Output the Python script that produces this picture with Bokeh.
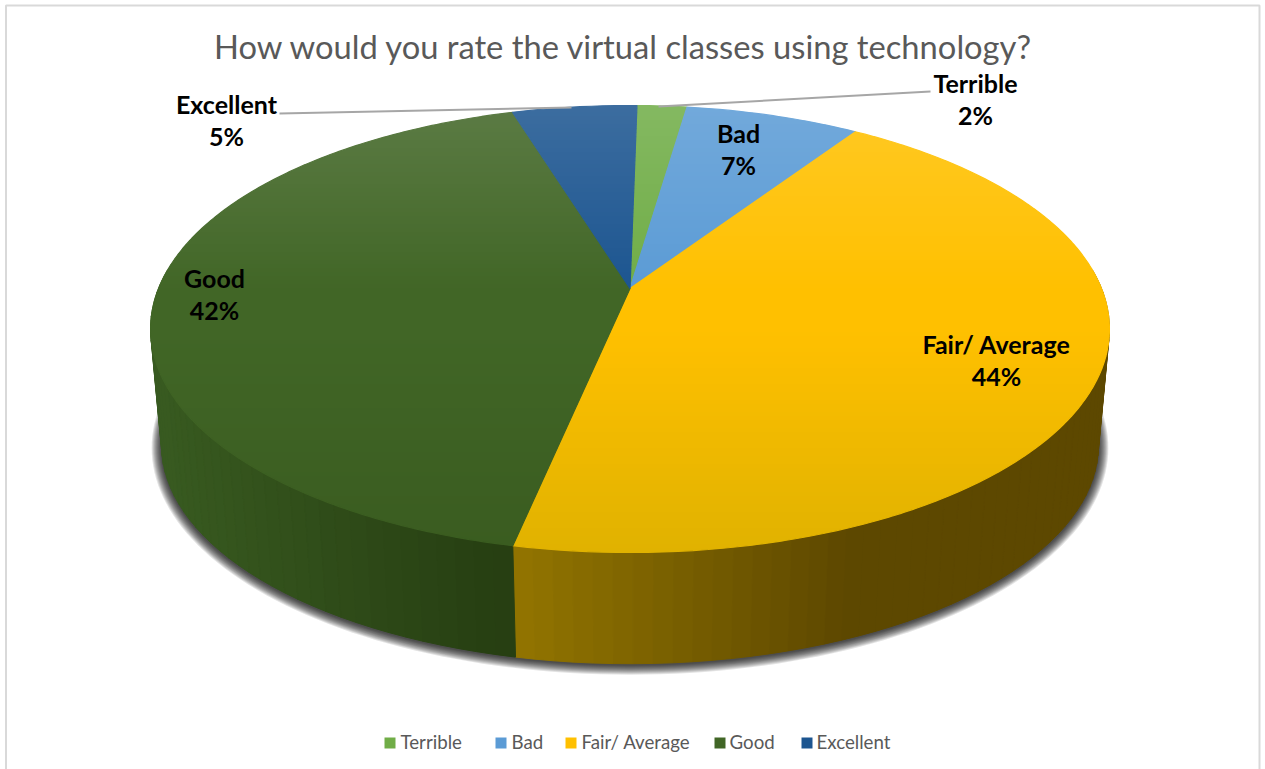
import math

from bokeh.core.properties import value
from bokeh.embed import file_html
from bokeh.models import ColumnDataSource, Range1d
from bokeh.plotting import figure
from bokeh.resources import INLINE

# Survey results
categories = ["Terrible", "Bad", "Fair/ Average", "Good", "Excellent"]
shares = [2, 7, 44, 42, 5]
title_text = "How would you rate the virtual classes using technology?"

# Slice colours at mid depth and at the front edge of the disc
top_colors = ["#70AD47", "#5B9BD5", "#FFC000", "#416626", "#1C5590"]
front_colors = ["#64993f", "#5189bd", "#E0B200", "#3A5C20", "#194c80"]

WIDTH, HEIGHT = 1265, 769

# Perspective disc: screen position of a rim point depends on the angle
CX, APEX_Y = 629.5, 288.0
PERSP = 0.1812
RX = 471.5
RY = 163.97
START_DEG = 1.0
WALL_SCALE = 0.977
WALL_Y = 405.3


def rim(theta):
    u, v = math.sin(theta), math.cos(theta)
    d = 1 + PERSP * v
    return CX + RX * u / d, (APEX_Y - RY * v) / d


def base(theta):
    x, y = rim(theta)
    return CX + WALL_SCALE * (x - CX), WALL_Y + WALL_SCALE * (y - APEX_Y)


def mix(color, other, t):
    t = max(0.0, min(1.0, t))
    a = [int(color[i:i + 2], 16) for i in (1, 3, 5)]
    b = [int(other[i:i + 2], 16) for i in (1, 3, 5)]
    return "#%02x%02x%02x" % tuple(round(p + (q - p) * t) for p, q in zip(a, b))


def clip_band(poly, y0, y1):
    """Keep the part of a polygon lying between two horizontal lines."""
    def clip(points, limit, keep_below):
        out = []
        for i, (x1, y1_) in enumerate(points):
            x0, y0_ = points[i - 1]
            in0 = (y0_ >= limit) if keep_below else (y0_ <= limit)
            in1 = (y1_ >= limit) if keep_below else (y1_ <= limit)
            if in0 != in1:
                t = (limit - y0_) / (y1_ - y0_)
                out.append((x0 + (x1 - x0) * t, limit))
            if in1:
                out.append((x1, y1_))
        return out
    part = clip(poly, y0, True)
    return clip(part, y1, False) if part else []


def surface_shade(idx, y):
    """Lighter towards the back of the disc, darker towards the front."""
    if y < 290:
        return mix(top_colors[idx], "#ffffff", 0.14 * (290 - y) / 185)
    return mix(top_colors[idx], front_colors[idx], (y - 330) / 222)


def wall_shade(idx, x):
    """Shade of the side wall, which changes with the horizontal position."""
    if idx == 2:
        return mix("#937500", "#5d4800", (x - 508) / 340)
    return mix("#385a20", "#273f12", (x - 160) / 330)


p = figure(width=WIDTH, height=HEIGHT, output_backend="svg", toolbar_location=None,
           x_range=Range1d(0, WIDTH), y_range=Range1d(HEIGHT, 0),
           min_border=0, outline_line_color=None, background_fill_color="white",
           border_fill_color="white")
p.axis.visible = False
p.grid.visible = False

# Chart frame
p.line([5.5, 5.5, 1259, 1259], [769, 5, 5, 769], line_color="#d9d9d9", line_width=2)

# Soft shadow under the pie, built from stacked translucent outlines
steps = [2 * math.pi * i / 240 for i in range(240)]
for k in range(10):
    grow = 10 - k
    xs, ys = [], []
    for t in steps:
        bx, by = base(t)
        xs.append(CX + (bx - CX) * (1 + grow / 470))
        ys.append(by + 1 + (by - WALL_Y) * grow / 258)
    p.patch(xs, ys, fill_color="#000000", fill_alpha=0.11, line_color=None)

# Cumulative slice boundaries
edges = [math.radians(START_DEG)]
for s in shares:
    edges.append(edges[-1] + 2 * math.pi * s / sum(shares))

# Side wall; drawn back to front so nearer strips cover farther ones
for idx in range(len(shares)):
    a0, a1 = edges[idx], edges[idx + 1]
    lo, hi = max(a0, math.radians(85)), min(a1, math.radians(275))
    if lo >= hi:
        continue
    n = max(2, int((hi - lo) / math.radians(2)))
    order = range(n) if idx == 2 else range(n - 1, -1, -1)
    for i in order:
        t0 = lo + (hi - lo) * i / n
        t1 = lo + (hi - lo) * (i + 1) / n
        xa, ya = rim(t0)
        xb, yb = rim(t1)
        xc, yc = base(t1)
        xd, yd = base(t0)
        c = wall_shade(idx, (xa + xb) / 2)
        p.patch([xa, xb, xc, xd], [ya, yb, yc, yd], fill_color=c, line_color=c, line_width=1)

# Top surface, drawn as thin horizontal bands for a vertical shade
BAND = 4
for idx in range(len(shares)):
    a0, a1 = edges[idx], edges[idx + 1]
    n = max(4, int((a1 - a0) / math.radians(1.5)))
    sector = [(CX, APEX_Y)] + [rim(a0 + (a1 - a0) * i / n) for i in range(n + 1)]
    y = 100
    while y < 556:
        part = clip_band(sector, y, y + BAND)
        if len(part) >= 3:
            c = surface_shade(idx, y + BAND / 2)
            p.patch([q[0] for q in part], [q[1] for q in part],
                    fill_color=c, line_color=c, line_width=1.2)
        y += BAND

# Leader lines of the two outer labels
p.line([279, 571], [113, 107], line_color="#a6a6a6", line_width=2)
p.line([658, 930], [106, 91], line_color="#a6a6a6", line_width=2)

# Slice labels
label_x = [975, 738, 996, 214, 226]
label_y = [82, 132, 343, 277, 103]
label_src = ColumnDataSource(dict(
    x=label_x * 2,
    y=label_y + [v + 32 for v in label_y],
    text=categories + [f"{s}%" for s in shares],
))
p.text("x", "y", text="text", source=label_src, text_font=value("Lato"),
       text_font_style="bold", text_font_size="25px", text_color="#000000",
       text_align="center", text_baseline="middle")

# Title
p.text([623.5], [46], text=[title_text], text_font=value("Lato"), text_font_size="32.7px",
       text_color="#595959", text_align="center", text_baseline="middle")

# Legend row
swatch_x = [389.5, 500.5, 570.5, 719.5, 806.5]
text_x = [400, 511, 581, 729, 816]
p.rect(swatch_x, [742.5] * 5, width=11, height=11, fill_color=top_colors, line_color=None)
p.text(text_x, [741] * 5, text=categories, text_font=value("Lato"), text_font_size="18.7px",
       text_color="#595959", text_align="left", text_baseline="middle")

open("out.html", "w").write(file_html(p, INLINE))
